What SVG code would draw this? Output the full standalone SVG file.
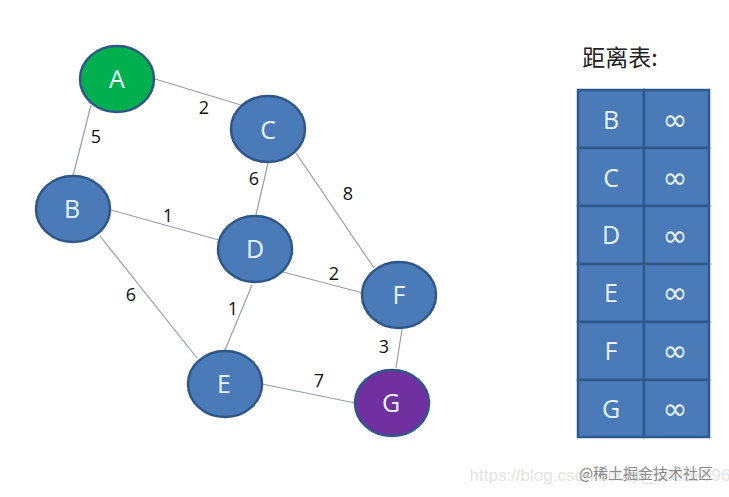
<svg xmlns="http://www.w3.org/2000/svg" width="729" height="497" viewBox="0 0 729 497">
<style>
text{font-family:"Open Sans","Noto Sans","Noto Sans CJK SC",sans-serif;text-anchor:middle}
.n{fill:#4a7ab8;stroke:#2f5688;stroke-width:2.5}
.t{fill:#e6f3fb;font-size:25px}
.w{fill:#111;font-size:18px}
.e{stroke:#9a9ea3;stroke-width:1.2;fill:none}
.c{fill:#4a7ab8;stroke:#2f5a8e;stroke-width:2.5}
.i{fill:#e6f3fb;font-size:30px;font-family:"DejaVu Sans",sans-serif}
</style>
<rect width="729" height="497" fill="#fff"/>
<g id="connectors">
<line class="e" x1="155" y1="79" x2="241" y2="105"/>
<line class="e" x1="91" y1="105" x2="73" y2="176"/>
<line class="e" x1="296" y1="153" x2="374" y2="268"/>
<line class="e" x1="268" y1="163" x2="256" y2="215"/>
<line class="e" x1="111" y1="210" x2="219" y2="240"/>
<line class="e" x1="100" y1="236" x2="197" y2="358"/>
<line class="e" x1="283" y1="272" x2="363" y2="293"/>
<line class="e" x1="252" y1="285" x2="225" y2="350"/>
<line class="e" x1="402" y1="329" x2="396" y2="368"/>
<line class="e" x1="262" y1="384" x2="355" y2="403"/>
</g>
<g id="edge-labels">
<text class="w" x="204" y="114">2</text>
<text class="w" x="96" y="143">5</text>
<text class="w" x="254" y="185">6</text>
<text class="w" x="348" y="200">8</text>
<text class="w" x="168" y="222">1</text>
<text class="w" x="131" y="301">6</text>
<text class="w" x="334" y="280">2</text>
<text class="w" x="233" y="315">1</text>
<text class="w" x="384" y="353">3</text>
<text class="w" x="319" y="387">7</text>
</g>
<g id="node-A"><ellipse cx="117" cy="79" rx="37" ry="33" fill="#00b04f" stroke="#2f5688" stroke-width="2.5"/><text class="t" x="117" y="88">A</text></g>
<g id="node-B"><ellipse class="n" cx="73" cy="209" rx="37" ry="33"/><text class="t" x="72" y="218">B</text></g>
<g id="node-C"><ellipse class="n" cx="268" cy="129" rx="37" ry="33"/><text class="t" x="268" y="139">C</text></g>
<g id="node-D"><ellipse class="n" cx="255" cy="249" rx="37" ry="33"/><text class="t" x="255" y="258">D</text></g>
<g id="node-E"><ellipse class="n" cx="225" cy="384" rx="37" ry="33"/><text class="t" x="224" y="393">E</text></g>
<g id="node-F"><ellipse class="n" cx="399" cy="295" rx="37" ry="33"/><text class="t" x="399" y="304">F</text></g>
<g id="node-G"><ellipse cx="392" cy="403" rx="37" ry="33" fill="#7030a0" stroke="#2f5688" stroke-width="2.5"/><text class="t" x="391" y="412">G</text></g>
<g id="table">
<text x="620" y="66" fill="#222" style="font-family:'Noto Sans CJK SC',sans-serif;font-size:23px">距离表:</text>
<rect class="c" x="578" y="90" width="66" height="58"/><rect class="c" x="644" y="90" width="65" height="58"/>
<rect class="c" x="578" y="148" width="66" height="58"/><rect class="c" x="644" y="148" width="65" height="58"/>
<rect class="c" x="578" y="206" width="66" height="58"/><rect class="c" x="644" y="206" width="65" height="58"/>
<rect class="c" x="578" y="264" width="66" height="58"/><rect class="c" x="644" y="264" width="65" height="58"/>
<rect class="c" x="578" y="322" width="66" height="58"/><rect class="c" x="644" y="322" width="65" height="58"/>
<rect class="c" x="578" y="380" width="66" height="57"/><rect class="c" x="644" y="380" width="65" height="57"/>
<text class="t" x="611" y="129">B</text><text class="i" x="675" y="130">∞</text>
<text class="t" x="611" y="187">C</text><text class="i" x="675" y="188">∞</text>
<text class="t" x="611" y="244">D</text><text class="i" x="675" y="246">∞</text>
<text class="t" x="611" y="302">E</text><text class="i" x="675" y="303">∞</text>
<text class="t" x="611" y="360">F</text><text class="i" x="675" y="361">∞</text>
<text class="t" x="611" y="418">G</text><text class="i" x="675" y="419">∞</text>
</g>
<g id="watermark">
<text x="600" y="481" fill="#e4e4e4" style="font-family:'Liberation Sans',sans-serif;font-size:17px">https://blog.csdn.net/qq_38235096</text>
<text x="646" y="479" fill="#8a8a8a" style="font-family:'Noto Sans CJK SC',sans-serif;font-size:15px">@稀土掘金技术社区</text>
</g>
</svg>
